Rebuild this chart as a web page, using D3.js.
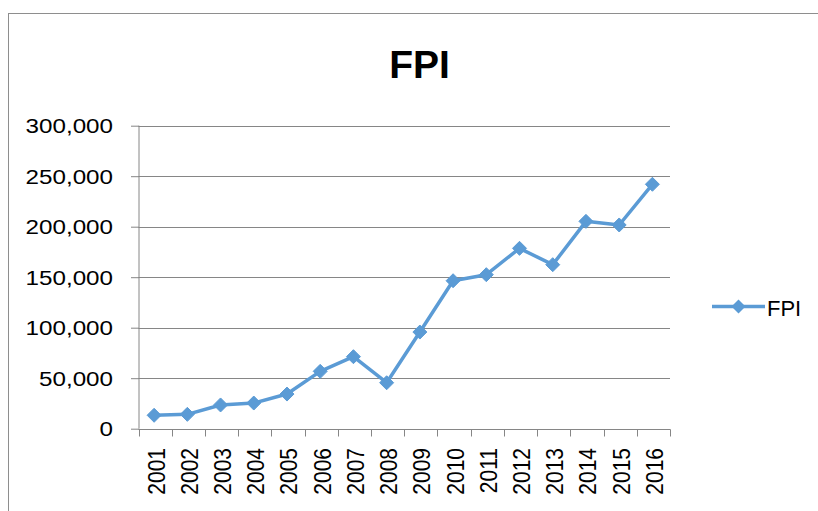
<!DOCTYPE html>
<html>
<head>
<meta charset="utf-8">
<script src="https://cdn.jsdelivr.net/npm/d3@7"></script>
<style>
  html, body { margin: 0; padding: 0; background: #fff; }
  svg { display: block; }
</style>
</head>
<body>
<div id="chart"></div>
<script>
const title = "FPI";
const seriesName = "FPI";
const years = ["2001","2002","2003","2004","2005","2006","2007","2008","2009","2010","2011","2012","2013","2014","2015","2016"];
const fpiValues = [13300, 14200, 23500, 25400, 34300, 56800, 71300, 45500, 95700, 146500, 152500, 178600, 162400, 205300, 201700, 242000];
const yTicks = [0, 50000, 100000, 150000, 200000, 250000, 300000];

const W = 818, H = 511;
const color = "#5B9BD5";
const gridColor = "#868686";
const stretch = 1.18;

const svg = d3.select("#chart").append("svg")
  .attr("width", W).attr("height", H);

// outer frame
svg.append("rect")
  .attr("x", 8.5).attr("y", 13.5)
  .attr("width", 900).attr("height", 600)
  .attr("fill", "#fff")
  .attr("stroke", "#8e8e8e").attr("stroke-width", 1);

const x = d3.scaleBand().domain(years).range([138.5, 670]).paddingInner(0).paddingOuter(0);
const y = d3.scaleLinear().domain([0, 300000]).range([428.7, 125.7]);

// gridlines
svg.append("g").selectAll("line")
  .data(yTicks.filter(d => d > 0))
  .join("line")
  .attr("x1", x.range()[0]).attr("x2", x.range()[1])
  .attr("y1", d => Math.round(y(d)) + 0.5).attr("y2", d => Math.round(y(d)) + 0.5)
  .attr("stroke", gridColor).attr("stroke-width", 1);

// y axis
const yAxis = svg.append("g")
  .attr("transform", `translate(${x.range()[0] + 0.5},0)`)
  .call(d3.axisLeft(y).tickValues(yTicks).tickSize(8).tickFormat(d3.format(",")));
yAxis.select(".domain").attr("stroke", gridColor).attr("d", `M0,${y(300000)}V${y(0)}`);
yAxis.selectAll(".tick line").attr("stroke", gridColor);
yAxis.selectAll(".tick text").remove();
yAxis.selectAll(".tick").append("text")
  .attr("transform", `translate(-26,7) scale(${stretch},1)`)
  .attr("text-anchor", "end")
  .attr("fill", "#000")
  .style("font-family", "'Liberation Sans', Arial, sans-serif")
  .style("font-size", "20.5px")
  .text(d => d3.format(",")(d));

// x axis line
const xBase = Math.round(y(0)) + 0.5;
svg.append("line")
  .attr("x1", x.range()[0]).attr("x2", x.range()[1] + 0.5)
  .attr("y1", xBase).attr("y2", xBase)
  .attr("stroke", gridColor);
// x ticks at band boundaries
const boundaries = years.map(d => x(d)).concat([x.range()[1]]);
svg.append("g").selectAll("line")
  .data(boundaries)
  .join("line")
  .attr("x1", d => Math.round(d) + 0.5).attr("x2", d => Math.round(d) + 0.5)
  .attr("y1", xBase).attr("y2", xBase + 7)
  .attr("stroke", gridColor);
// x labels
svg.append("g").selectAll("text")
  .data(years)
  .join("text")
  .attr("transform", d => `translate(${x(d) + x.bandwidth() / 2 + 9.5},448) scale(${stretch},1) rotate(-90)`)
  .attr("text-anchor", "end")
  .attr("fill", "#000")
  .style("font-family", "'Liberation Sans', Arial, sans-serif")
  .style("font-size", "21px")
  .text(d => d);

// line
const line = d3.line()
  .x((d, i) => x(years[i]) + x.bandwidth() / 2 - 1)
  .y(d => y(d));
svg.append("path")
  .datum(fpiValues)
  .attr("d", line)
  .attr("fill", "none")
  .attr("stroke", color)
  .attr("stroke-width", 3.5)
  .attr("stroke-linejoin", "round");

const diamond = d3.symbol().type(d3.symbolDiamond2 || d3.symbolSquare2).size(85);
function diamondPath(s) {
  return `M0,${-s}L${s},0L0,${s}L${-s},0Z`;
}
svg.append("g").selectAll("path")
  .data(fpiValues)
  .join("path")
  .attr("transform", (d, i) => `translate(${x(years[i]) + x.bandwidth() / 2 - 1},${y(d)})`)
  .attr("d", diamondPath(7))
  .attr("fill", color)
  .attr("stroke", color)
  .attr("stroke-width", 1);

// title
svg.append("text")
  .attr("x", 419.5).attr("y", 77.5)
  .attr("text-anchor", "middle")
  .attr("fill", "#000")
  .style("font-family", "'Liberation Sans', Arial, sans-serif")
  .style("font-weight", "bold")
  .style("font-size", "39px")
  .text(title);

// legend
const lg = svg.append("g");
lg.append("line")
  .attr("x1", 712).attr("x2", 765)
  .attr("y1", 306.5).attr("y2", 306.5)
  .attr("stroke", color).attr("stroke-width", 3.5);
lg.append("path")
  .attr("transform", "translate(738.5,306.5)")
  .attr("d", diamondPath(7))
  .attr("fill", color);
lg.append("text")
  .attr("x", 767).attr("y", 315.5)
  .attr("fill", "#000")
  .style("font-family", "'Liberation Sans', Arial, sans-serif")
  .style("font-size", "22px")
  .text(seriesName);
</script>
</body>
</html>
